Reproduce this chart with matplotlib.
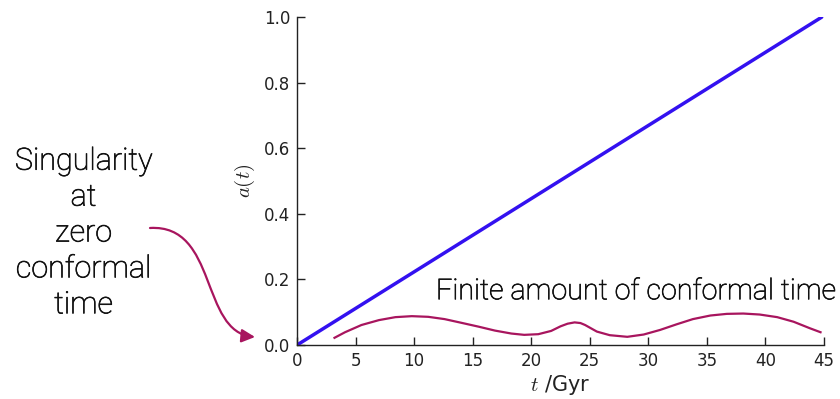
import matplotlib
matplotlib.use("Agg")
import matplotlib.pyplot as plt
import matplotlib.patheffects as pe
from matplotlib.patches import FancyArrowPatch
from matplotlib.path import Path

plt.rcParams['mathtext.fontset'] = 'cm'

# Data
t_line = [0, 44.8]
a_line = [0.0, 1.0]

t_conf = [3.2, 4.1, 5.5, 7.0, 8.4, 9.8, 11.2, 12.6, 14.0, 15.5, 16.9, 18.3, 19.4,
          20.6, 21.7, 22.5, 23.1, 23.7, 24.2, 24.6, 25.1, 25.6, 26.7, 28.2, 29.6,
          31.0, 32.4, 33.8, 35.3, 36.7, 38.1, 39.5, 41.0, 42.4, 43.8, 44.7]
a_conf = [0.022, 0.039, 0.061, 0.076, 0.085, 0.088, 0.086, 0.079, 0.068, 0.056, 0.044,
          0.035, 0.031, 0.033, 0.043, 0.057, 0.065, 0.069, 0.067, 0.061, 0.051, 0.041,
          0.030, 0.025, 0.032, 0.046, 0.063, 0.079, 0.090, 0.095, 0.096, 0.093, 0.085,
          0.071, 0.051, 0.039]

x_ticks = [0, 5, 10, 15, 20, 25, 30, 35, 40, 45]
y_ticks = [0.0, 0.2, 0.4, 0.6, 0.8, 1.0]

fig = plt.figure(figsize=(8.4, 3.99), dpi=100)
ax = fig.add_axes([0.3536, 0.1353, 0.6274, 0.8217])

ax.plot(t_line, a_line, color='#3311f0', lw=2.5, solid_capstyle='round')
ax.plot(t_conf, a_conf, color='#a8155e', lw=1.6, solid_joinstyle='round')

ax.set_xlim(0, 45)
ax.set_ylim(0, 1.0)
ax.set_xticks(x_ticks)
ax.set_yticks(y_ticks)
ax.set_yticklabels([f"{v:.1f}" for v in y_ticks])
ax.tick_params(direction='in', length=6, width=1, labelsize=12, colors='#222222', pad=5)
for s in ['top', 'right']:
    ax.spines[s].set_visible(False)
for s in ['left', 'bottom']:
    ax.spines[s].set_linewidth(1.0)
    ax.spines[s].set_color('#222222')

ax.set_xlabel(r'$t$ /Gyr', fontsize=15, color='#222222', labelpad=2)
ax.set_ylabel(r'$a(t)$', fontsize=15, color='#222222', labelpad=5)

stroke = [pe.withStroke(linewidth=0.5, foreground='#111111')]
txt = dict(family=['Roboto', 'DejaVu Sans'], fontweight='light', color='#111111',
           path_effects=stroke)
fig.text(0.995, 0.270, 'Finite amount of conformal time', ha='right', va='center',
         fontsize=20.7, **txt)
fig.text(0.0994, 0.416, 'Singularity\nat\nzero\nconformal\ntime', ha='center', va='center',
         fontsize=22, linespacing=1.3, **txt)

W, H = 840, 399
def fp(x, y):
    return (x / W, 1 - y / H)

verts = [fp(150, 228), fp(218, 224), fp(200, 332), fp(255, 337)]
path = Path(verts, [Path.MOVETO, Path.CURVE4, Path.CURVE4, Path.CURVE4])
arrow = FancyArrowPatch(path=path, arrowstyle='-|>,head_length=8,head_width=4',
                        color='#a8155e', lw=1.6, transform=fig.transFigure)
fig.patches.append(arrow)

fig.savefig('out.png', dpi=100)
